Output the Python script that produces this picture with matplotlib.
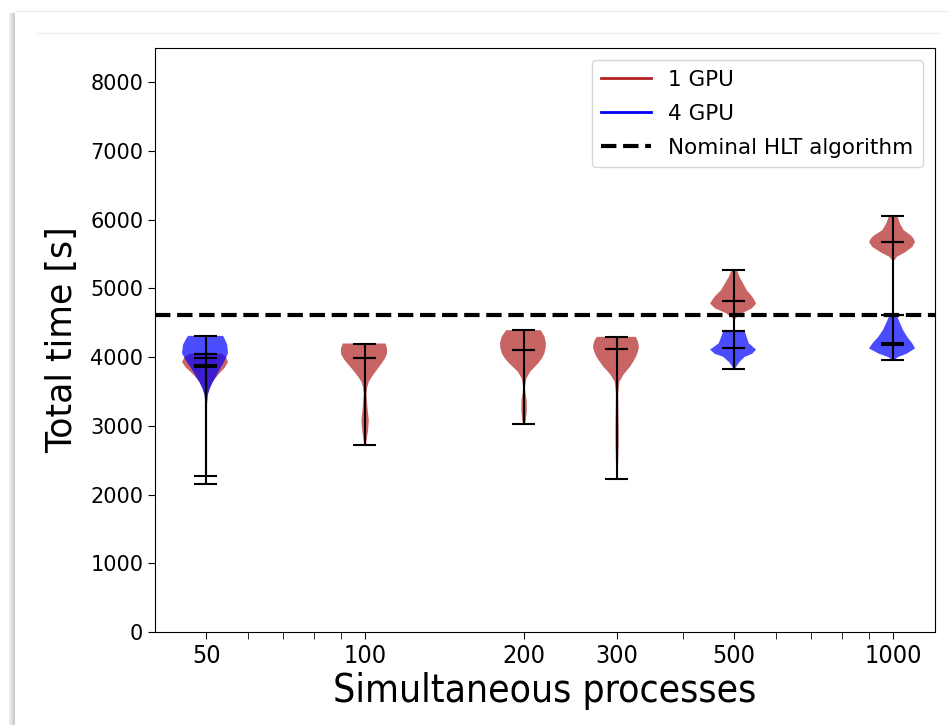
import numpy as np
import matplotlib.pyplot as plt
from matplotlib.lines import Line2D
from matplotlib.patches import Rectangle
from matplotlib.ticker import NullFormatter

# simultaneous processes (x positions)
procs_1gpu = [50, 100, 200, 300, 500, 1000]
procs_4gpu = [50, 500, 1000]

# summary values [s]
min_1gpu = [2157, 2715, 3030, 2230, 4380, 4610]
max_1gpu = [4050, 4199, 4393, 4296, 5265, 6051]
mean_1gpu = [3860, 3995, 4102, 4112, 4819, 5673]
median_1gpu = [3880, 3995, 4102, 4112, 4819, 5673]

min_4gpu = [2269, 3821, 3956]
max_4gpu = [4310, 4378, 4610]
mean_4gpu = [3995, 4136, 4209]
median_4gpu = [4044, 4136, 4184]

# violin outlines: time values and relative density at each
coords_1gpu = [
    [2157, 2500, 3000, 3300, 3450, 3550, 3650, 3750, 3850, 3930, 4000, 4050],
    [2715, 2800, 2940, 3080, 3280, 3470, 3560, 3640, 3700, 3760, 3840, 3910, 3980, 4050, 4130, 4199],
    [3030, 3085, 3230, 3375, 3480, 3570, 3690, 3790, 3850, 3910, 3980, 4050, 4130, 4200, 4300, 4393],
    [2230, 2260, 2500, 2750, 3000, 3230, 3470, 3640, 3740, 3800, 3860, 3930, 4005, 4080, 4150, 4230, 4296],
    [4380, 4500, 4570, 4640, 4710, 4780, 4830, 4880, 4975, 5070, 5170, 5265],
    [4610, 5000, 5400, 5460, 5530, 5605, 5677, 5730, 5775, 5847, 5945, 6000, 6051],
]
dens_1gpu = [
    [0.01, 0.01, 0.015, 0.03, 0.06, 0.15, 0.3, 0.55, 0.85, 1.0, 0.9, 0.7],
    [0.04, 0.07, 0.13, 0.16, 0.1, 0.06, 0.09, 0.16, 0.27, 0.4, 0.58, 0.75, 0.9, 1.0, 1.0, 0.93],
    [0.05, 0.08, 0.12, 0.11, 0.06, 0.04, 0.1, 0.27, 0.45, 0.63, 0.8, 0.92, 0.98, 1.0, 0.93, 0.75],
    [0.02, 0.03, 0.05, 0.07, 0.07, 0.06, 0.05, 0.1, 0.27, 0.42, 0.58, 0.72, 0.86, 0.95, 1.0, 0.95, 0.85],
    [0.005, 0.01, 0.06, 0.35, 0.8, 1.0, 0.92, 0.82, 0.56, 0.4, 0.23, 0.12],
    [0.004, 0.004, 0.03, 0.16, 0.55, 0.87, 1.0, 0.92, 0.79, 0.47, 0.3, 0.24, 0.19],
]
coords_4gpu = [
    [2269, 2600, 3000, 3300, 3450, 3550, 3620, 3700, 3760, 3850, 3910, 4000, 4060, 4180, 4260, 4310],
    [3821, 3860, 3930, 4005, 4050, 4110, 4150, 4200, 4270, 4330, 4378],
    [3956, 4000, 4050, 4127, 4199, 4296, 4393, 4490, 4560, 4610],
]
dens_4gpu = [
    [0.02, 0.015, 0.015, 0.03, 0.07, 0.17, 0.27, 0.4, 0.5, 0.65, 0.77, 0.92, 1.0, 0.96, 0.85, 0.76],
    [0.04, 0.08, 0.23, 0.47, 0.82, 1.0, 0.85, 0.66, 0.58, 0.52, 0.47],
    [0.05, 0.2, 0.6, 1.0, 0.87, 0.63, 0.44, 0.31, 0.22, 0.16],
]

nominal_hlt = 4620

xticks = [50, 100, 200, 300, 500, 1000]
xminor = [60, 70, 80, 90, 400, 600, 700, 800, 900]
yticks = [0, 1000, 2000, 3000, 4000, 5000, 6000, 7000, 8000]


def make_stats(coords, dens, mins, maxs, means, medians):
    out = []
    for c, d, lo, hi, mu, md in zip(coords, dens, mins, maxs, means, medians):
        out.append(dict(coords=np.array(c, float), vals=np.array(d, float),
                        min=lo, max=hi, mean=mu, median=md))
    return out


fig = plt.figure(figsize=(9.49, 7.25), dpi=100)
ax = fig.add_axes([155 / 949, 93 / 725, 780 / 949, 584 / 725])
ax.set_xscale('log')


def draw(stats, pos, color):
    parts = ax.violin(stats, positions=pos, widths=[0.2 * p for p in pos],
                      showmeans=True, showmedians=True, showextrema=True)
    for b in parts['bodies']:
        b.set_facecolor(color)
        b.set_edgecolor('none')
        b.set_alpha(0.7)
    for k in ['cbars', 'cmins', 'cmaxes', 'cmeans', 'cmedians']:
        parts[k].set_color('black')
        parts[k].set_linewidth(1.5)


draw(make_stats(coords_1gpu, dens_1gpu, min_1gpu, max_1gpu, mean_1gpu, median_1gpu),
     procs_1gpu, 'firebrick')
draw(make_stats(coords_4gpu, dens_4gpu, min_4gpu, max_4gpu, mean_4gpu, median_4gpu),
     procs_4gpu, 'blue')

ax.axhline(nominal_hlt, color='black', ls='--', lw=3)

ax.set_xlim(40, 1200)
ax.set_ylim(0, 8500)
ax.set_xticks(xticks)
ax.set_xticks(xminor, minor=True)
ax.xaxis.set_minor_formatter(NullFormatter())
ax.set_xticklabels([str(t) for t in xticks], fontsize=18, fontstretch='condensed')
ax.set_yticks(yticks)
ax.tick_params(axis='y', labelsize=15, length=5)
ax.tick_params(axis='x', which='both', length=5)

ax.set_xlabel('Simultaneous processes', fontsize=28, fontstretch='condensed', labelpad=3)
ax.set_ylabel('Total time [s]', fontsize=25, labelpad=8)

handles = [Line2D([], [], color='firebrick', lw=2),
           Line2D([], [], color='blue', lw=2),
           Line2D([], [], color='black', lw=3, ls='--')]
ax.legend(handles, ['1 GPU', '4 GPU', 'Nominal HLT algorithm'],
          loc='upper right', fontsize=15.5, handlelength=2.3, borderaxespad=0.55,
          labelspacing=0.65, borderpad=0.45)

# screenshot frame decoration
for i, c in enumerate(['#ececec', '#dddddd', '#cfcfcf']):
    fig.add_artist(Rectangle(((9 + 2 * i) / 949, 0), 2 / 949, 712 / 725,
                             transform=fig.transFigure, color=c, lw=0))
fig.add_artist(Line2D([15 / 949, 1], [714 / 725, 714 / 725], color='#efefef', lw=1))
fig.add_artist(Line2D([36 / 949, 940 / 949], [692 / 725, 692 / 725], color='#efefef', lw=1))

fig.savefig('out.png', dpi=100)
